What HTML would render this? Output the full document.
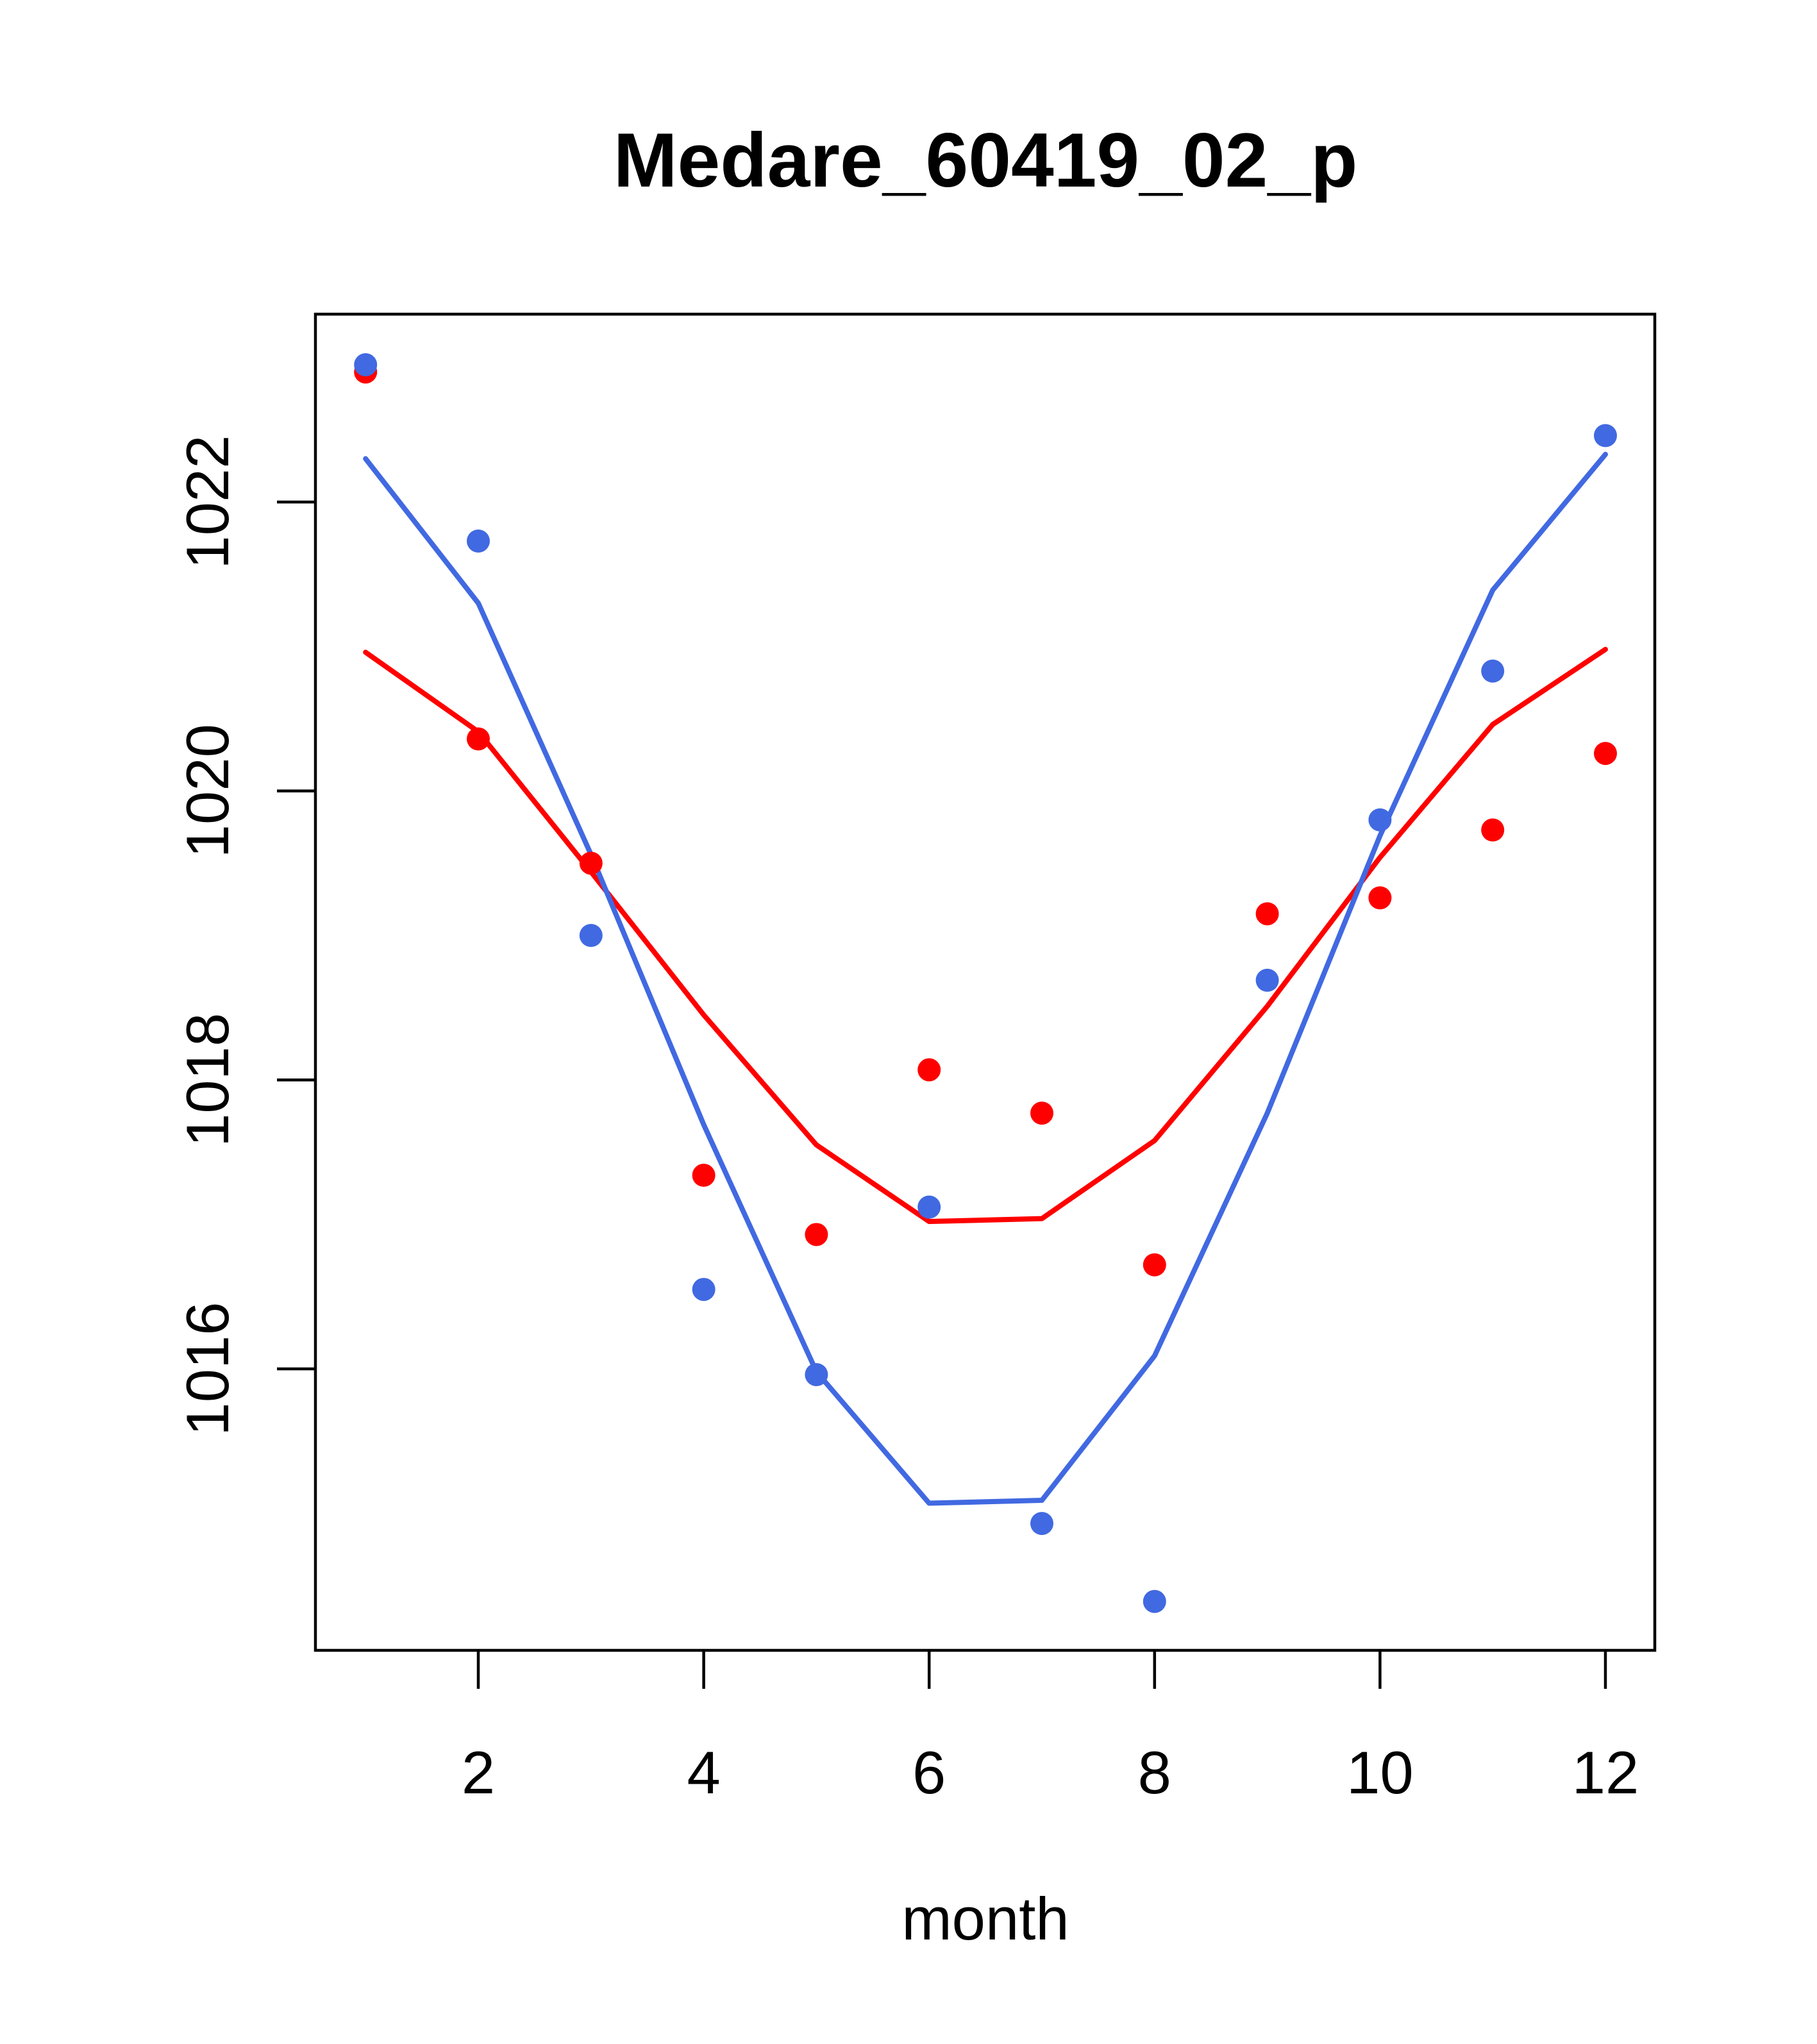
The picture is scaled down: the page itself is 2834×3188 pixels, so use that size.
<!DOCTYPE html>
<html><head><meta charset="utf-8"><style>
html,body{margin:0;padding:0;background:#fff}
svg{display:block}
text{font-family:"Liberation Sans",Arial,sans-serif;fill:#000}
</style></head><body>
<svg id="chart" width="2834" height="3188" viewBox="0 0 2834 3188" xmlns="http://www.w3.org/2000/svg">
<rect x="0" y="0" width="2834" height="3188" fill="#fff"/>
<text x="1537" y="291" font-size="120" font-weight="bold" text-anchor="middle">Medare_60419_02_p</text>
<rect x="492" y="490" width="2089" height="2084" fill="none" stroke="#000" stroke-width="4.5"/>
<g id="axes"></g>
<g id="series"></g>
<text x="1537" y="3025" font-size="94" text-anchor="middle">month</text>
</svg>
<script>
const months = [1,2,3,4,5,6,7,8,9,10,11,12];
const redPoints = [1022.90,1020.36,1019.50,1017.34,1016.93,1018.07,1017.77,1016.72,1019.15,1019.26,1019.73,1020.26];
const bluePoints = [1022.95,1021.73,1019.00,1016.55,1015.96,1017.12,1014.93,1014.39,1018.69,1019.80,1020.83,1022.46];
const redLine = [1020.96,1020.41,1019.44,1018.45,1017.55,1017.02,1017.04,1017.58,1018.51,1019.54,1020.46,1020.98];
const blueLine = [1022.30,1021.30,1019.56,1017.69,1015.98,1015.07,1015.09,1016.09,1017.77,1019.69,1021.39,1022.33];
const xTicks = [2,4,6,8,10,12];
const yTicks = [1016,1018,1020,1022];

const NS = "http://www.w3.org/2000/svg";
function xs(m){ return 746 + (m-2)*(2504-746)/10; }
function ys(v){ return 783 + (1022-v)*(2135-783)/6; }
const axes = document.getElementById('axes');
const series = document.getElementById('series');
function mk(tag, attrs, parent){
  const e = document.createElementNS(NS, tag);
  for (const k in attrs) e.setAttribute(k, attrs[k]);
  parent.appendChild(e); return e;
}
xTicks.forEach(t=>{
  const l = mk('line',{x1:xs(t),x2:xs(t),y1:2574,y2:2634,stroke:'#000','stroke-width':4.5},axes);
  
  
  const tx = mk('text',{x:xs(t),y:2797,'font-size':94,'text-anchor':'middle'},axes);
  tx.textContent = t;
  
  
});
yTicks.forEach(t=>{
  const l = mk('line',{x1:432,x2:492,y1:ys(t),y2:ys(t),stroke:'#000','stroke-width':4.5},axes);
  
  
  const tx = mk('text',{x:0,y:0,'font-size':94,'text-anchor':'middle',transform:'translate(356,'+ys(t)+') rotate(-90)'},axes);
  tx.textContent = t;
  
  
});
function line(vals, color, name){
  const p = mk('polyline',{points: vals.map((v,i)=>xs(months[i])+','+ys(v)).join(' '),fill:'none',stroke:color,'stroke-width':8,'stroke-linejoin':'round','stroke-linecap':'round'},series);
  
  
}
function pts(vals, color, name){
  vals.forEach((v,i)=>{
    const c = mk('circle',{cx:xs(months[i]),cy:ys(v),r:18,fill:color},series);
    
    
  });
}
line(redLine,'#FF0000','red-fit-line');
line(blueLine,'#4169E1','blue-fit-line');
pts(redPoints,'#FF0000','red-point');
pts(bluePoints,'#4169E1','blue-point');
</script>
</body></html>
